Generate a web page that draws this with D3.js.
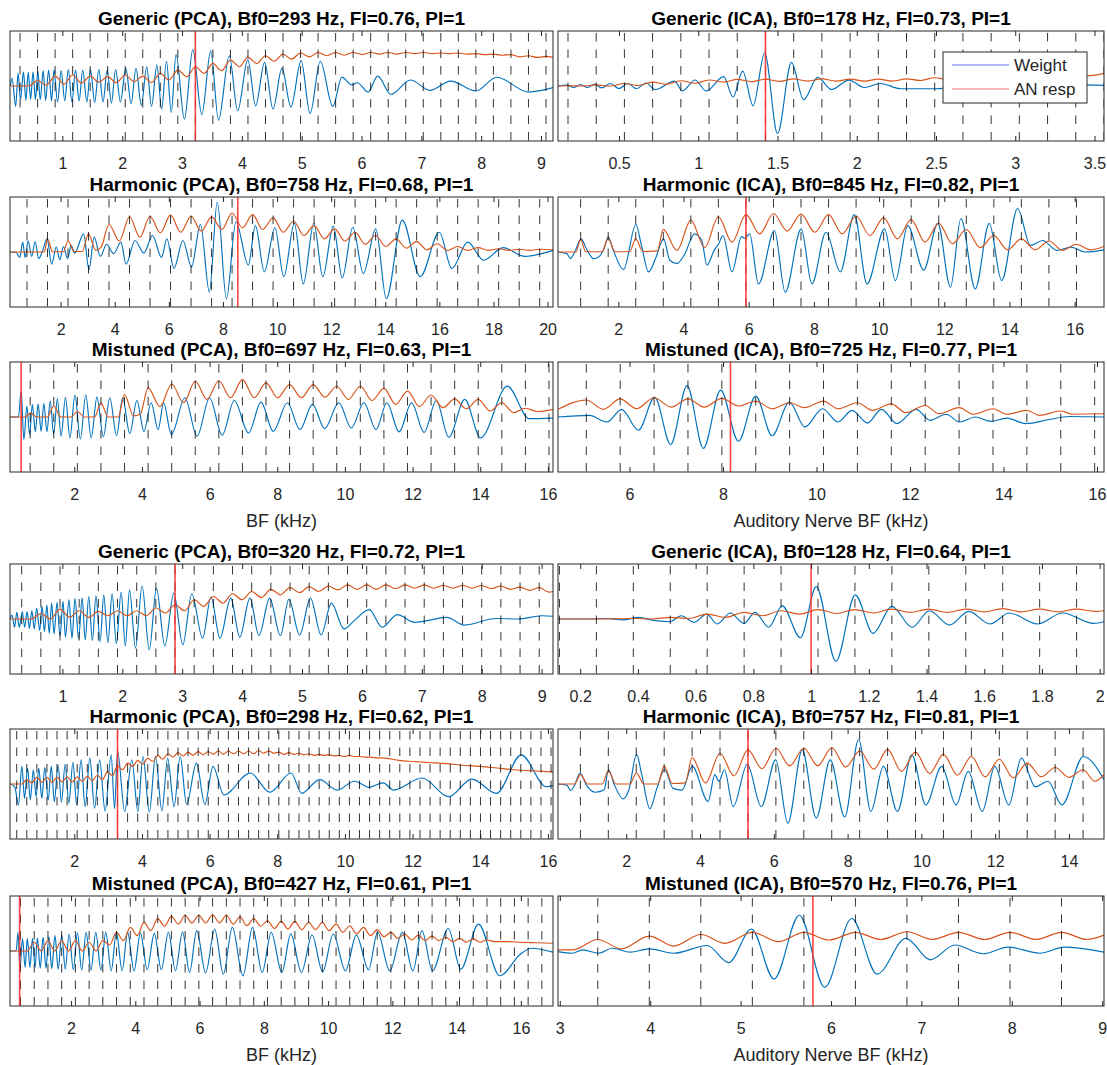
<!DOCTYPE html>
<html>
<head>
<meta charset="utf-8">
<script src="https://cdn.jsdelivr.net/npm/d3@7"></script>
<style>
html, body { margin: 0; padding: 0; background: #fff; }
svg { display: block; }
</style>
</head>
<body>
<svg id="fig" width="1107" height="1065"></svg>
<script>
// ---------- panel descriptors ----------
const panelTitles = [
  "Generic (PCA), Bf0=293 Hz, FI=0.76, PI=1",
  "Generic (ICA), Bf0=178 Hz, FI=0.73, PI=1",
  "Harmonic (PCA), Bf0=758 Hz, FI=0.68, PI=1",
  "Harmonic (ICA), Bf0=845 Hz, FI=0.82, PI=1",
  "Mistuned (PCA), Bf0=697 Hz, FI=0.63, PI=1",
  "Mistuned (ICA), Bf0=725 Hz, FI=0.77, PI=1",
  "Generic (PCA), Bf0=320 Hz, FI=0.72, PI=1",
  "Generic (ICA), Bf0=128 Hz, FI=0.64, PI=1",
  "Harmonic (PCA), Bf0=298 Hz, FI=0.62, PI=1",
  "Harmonic (ICA), Bf0=757 Hz, FI=0.81, PI=1",
  "Mistuned (PCA), Bf0=427 Hz, FI=0.61, PI=1",
  "Mistuned (ICA), Bf0=570 Hz, FI=0.76, PI=1"
];
const bestF0Hz = [293, 178, 758, 845, 697, 725, 320, 128, 298, 757, 427, 570];
const bfRangeKHz = [
  [0.125, 9.2], [0.115, 3.56], [0.13, 20.2], [0.15, 16.9], [0.10, 16.15], [4.47, 16.15],
  [0.125, 9.19], [0.123, 2.015], [0.10, 16.15], [0.15, 14.95], [0.10, 17.0], [2.98, 9.02]
];
const xTickValues = [
  [1, 2, 3, 4, 5, 6, 7, 8, 9],
  [0.5, 1, 1.5, 2, 2.5, 3, 3.5],
  [2, 4, 6, 8, 10, 12, 14, 16, 18, 20],
  [2, 4, 6, 8, 10, 12, 14, 16],
  [2, 4, 6, 8, 10, 12, 14, 16],
  [6, 8, 10, 12, 14, 16],
  [1, 2, 3, 4, 5, 6, 7, 8, 9],
  [0.2, 0.4, 0.6, 0.8, 1, 1.2, 1.4, 1.6, 1.8, 2],
  [2, 4, 6, 8, 10, 12, 14, 16],
  [2, 4, 6, 8, 10, 12, 14],
  [2, 4, 6, 8, 10, 12, 14, 16],
  [3, 4, 5, 6, 7, 8, 9]
];
const markerBFkHz = [3.223, 1.424, 8.55, 5.915, 0.43, 8.16, 2.88, 1.0, 3.278, 5.299, 0.40, 5.80];
const xAxisTitles = ["BF (kHz)", "Auditory Nerve BF (kHz)"];
const legendLabels = ["Weight", "AN resp"];

// ---------- weight (blue) and AN response (orange) per panel: [BF kHz, value] ----------
const weightP1 = [[0.13,0],[0.16,0.14],[0.22,-0.37],[0.26,0.23],[0.30,-0.25],[0.35,0.26],[0.39,-0.26],[0.43,0.25],[0.47,-0.24],[0.51,0.26],[0.55,-0.25],[0.59,0.27],[0.63,-0.25],[0.68,0.28],[0.72,-0.26],[0.77,0.29],[0.82,-0.27],[0.86,0.29],[0.92,-0.29],[0.98,0.28],[1.04,-0.27],[1.10,0.30],[1.16,-0.29],[1.22,0.29],[1.28,-0.27],[1.34,0.29],[1.41,-0.29],[1.47,0.30],[1.54,-0.30],[1.61,0.30],[1.68,-0.29],[1.75,0.29],[1.82,-0.31],[1.89,0.30],[1.97,-0.29],[2.06,0.32],[2.15,-0.32],[2.23,0.32],[2.32,-0.35],[2.41,0.35],[2.49,-0.37],[2.58,0.38],[2.66,-0.42],[2.74,0.45],[2.82,-0.48],[2.90,0.57],[3.04,-0.60],[3.18,0.66],[3.33,-0.52],[3.48,0.64],[3.61,-0.62],[3.79,0.55],[3.93,-0.45],[4.10,0.48],[4.23,-0.36],[4.38,0.43],[4.52,-0.42],[4.67,0.32],[4.82,-0.38],[4.99,0.46],[5.14,-0.50],[5.31,0.45],[5.52,-0.37],[5.67,0.16],[5.84,0.02],[5.93,0.06],[6.11,-0.11],[6.27,0.18],[6.49,-0.15],[6.82,0.11],[7.14,-0.08],[7.49,0.09],[7.91,-0.09],[8.26,0.16],[8.79,-0.11],[9.2,-0.03]];
const anRespP1 = [[0.125,0],[0.293,0],[0.44,0],[0.586,0.10],[0.73,0.015],[0.879,0.18],[1.03,0.035],[1.172,0.20],[1.32,0.05],[1.465,0.18],[1.61,0.07],[1.758,0.17],[1.90,0.06],[2.051,0.20],[2.20,0.08],[2.344,0.18],[2.49,0.06],[2.637,0.23],[2.78,0.11],[2.93,0.29],[3.08,0.17],[3.223,0.35],[3.37,0.23],[3.516,0.41],[3.66,0.28],[3.809,0.47],[3.96,0.35],[4.102,0.52],[4.25,0.41],[4.395,0.55],[4.54,0.45],[4.688,0.58],[4.83,0.49],[4.981,0.60],[5.13,0.53],[5.274,0.61],[5.42,0.55],[5.567,0.61],[5.71,0.56],[5.86,0.61],[6.01,0.57],[6.153,0.61],[6.30,0.58],[6.446,0.61],[6.59,0.58],[6.739,0.61],[6.89,0.59],[7.032,0.61],[7.18,0.59],[7.325,0.60],[7.47,0.59],[7.618,0.60],[7.76,0.58],[7.911,0.59],[8.06,0.57],[8.204,0.58],[8.35,0.56],[8.497,0.57],[8.64,0.53],[8.79,0.55],[8.94,0.52],[9.083,0.54],[9.2,0.52]];

const weightP2 = [[0.115,0],[0.17,0.015],[0.214,-0.028],[0.258,0.028],[0.302,-0.028],[0.346,0.034],[0.39,-0.034],[0.445,0.046],[0.50,-0.046],[0.555,0.046],[0.61,-0.05],[0.67,0.055],[0.73,-0.065],[0.85,0.09],[0.90,-0.09],[0.98,0.11],[1.05,-0.09],[1.16,0.17],[1.22,-0.20],[1.28,0.27],[1.346,-0.36],[1.419,0.60],[1.50,-0.865],[1.588,0.43],[1.665,-0.25],[1.753,0.157],[1.841,-0.065],[1.951,0.108],[2.049,-0.028],[2.148,0.046],[2.28,-0.05],[2.5,-0.05],[2.7,-0.02],[2.9,-0.05],[3.1,-0.01],[3.3,-0.03],[3.45,0.02],[3.56,0.01]];
const anRespP2 = [[0.115,0],[0.178,0.005],[0.27,0],[0.356,0.02],[0.445,0],[0.534,0.045],[0.62,0.01],[0.712,0.07],[0.80,0.03],[0.89,0.095],[0.98,0.05],[1.068,0.11],[1.16,0.07],[1.246,0.12],[1.335,0.08],[1.424,0.125],[1.51,0.085],[1.602,0.13],[1.69,0.09],[1.78,0.13],[1.87,0.09],[1.958,0.125],[2.05,0.09],[2.136,0.125],[2.225,0.09],[2.314,0.13],[2.40,0.10],[2.492,0.15],[2.58,0.12],[2.67,0.16],[2.76,0.13],[2.848,0.17],[2.94,0.14],[3.026,0.18],[3.115,0.15],[3.204,0.19],[3.29,0.17],[3.382,0.21],[3.47,0.19],[3.56,0.23]];

const weightP3 = [[0.13,0],[0.36,-0.01],[0.49,-0.10],[0.60,0.18],[0.69,-0.10],[0.80,0.20],[0.93,-0.08],[1.06,0.19],[1.19,-0.12],[1.32,0],[1.50,0.24],[1.67,-0.22],[1.84,0.09],[1.97,-0.14],[2.10,0.10],[2.26,-0.12],[2.39,0.12],[2.52,-0.02],[2.85,0.33],[3.05,-0.32],[3.24,0.27],[3.47,-0.08],[3.70,0.14],[3.96,-0.03],[4.23,0.18],[4.42,-0.22],[4.75,0.21],[5.08,-0.02],[5.40,0.30],[5.73,-0.10],[5.93,0.24],[6.19,-0.30],[6.52,0.21],[6.84,-0.27],[7.17,0.50],[7.50,-0.73],[7.79,0.91],[8.13,-0.85],[8.48,0.55],[8.94,-0.24],[9.20,0.48],[9.53,-0.36],[9.92,0.44],[10.25,-0.45],[10.64,0.52],[10.97,-0.58],[11.36,0.52],[11.69,-0.45],[12.08,0.47],[12.41,-0.47],[12.80,0.45],[13.19,-0.39],[13.65,0.42],[14.04,-0.85],[14.63,0.58],[15.29,-0.45],[16.0,0.36],[16.46,-0.30],[17.05,0.18],[17.64,-0.15],[18.36,0.08],[19.15,-0.08],[20.2,0.03]];
const anRespP3 = [[0.13,0],[1.40,0],[1.516,0.24],[1.70,0.005],[2.10,0.005],[2.274,0.20],[2.50,0.01],[2.80,0.01],[3.032,0.33],[3.30,0.03],[3.50,0.09],[3.79,0.50],[4.17,0.20],[4.548,0.64],[4.93,0.27],[5.306,0.65],[5.685,0.35],[6.064,0.67],[6.44,0.36],[6.822,0.65],[7.20,0.38],[7.58,0.64],[7.96,0.41],[8.338,0.71],[8.72,0.44],[9.096,0.68],[9.47,0.41],[9.854,0.62],[10.23,0.36],[10.612,0.56],[10.99,0.30],[11.37,0.48],[11.75,0.24],[12.128,0.42],[12.51,0.20],[12.886,0.36],[13.26,0.14],[13.644,0.30],[14.02,0.10],[14.40,0.24],[14.78,0.07],[15.16,0.19],[15.54,0.04],[15.918,0.15],[16.30,0.03],[16.676,0.10],[17.05,0.03],[17.434,0.08],[17.81,0.03],[18.19,0.06],[18.57,0.03],[18.95,0.05],[19.33,0.03],[19.71,0.05],[20.2,0.04]];

const weightP4 = [[0.15,0],[0.42,-0.03],[0.53,-0.12],[0.64,-0.03],[0.86,0.24],[1.02,0.06],[1.24,-0.12],[1.40,-0.09],[1.56,0.06],[1.69,0.27],[1.84,0.04],[2.16,-0.32],[2.54,0.50],[2.71,0.12],[2.93,-0.36],[3.14,-0.12],[3.39,0.24],[3.58,-0.15],[3.80,-0.21],[4.02,-0.06],[4.34,0.33],[4.56,0.21],[4.72,-0.24],[4.94,0.03],[5.08,0.15],[5.21,0.30],[5.49,-0.36],[5.78,0.28],[5.88,0.25],[6.03,0.33],[6.30,-0.58],[6.79,0.39],[7.12,-0.73],[7.61,0.42],[7.94,-0.58],[8.37,0.36],[8.81,-0.36],[9.24,0.68],[9.63,-0.58],[10.17,0.42],[10.50,-0.52],[10.88,0.48],[11.37,-0.33],[11.80,0.52],[12.19,-0.64],[12.51,0.61],[12.95,-0.67],[13.38,0.52],[13.76,-0.52],[14.25,0.79],[14.64,0.12],[15.02,0.21],[15.45,0.03],[15.89,0.09],[16.32,0],[16.9,0.04]];
const anRespP4 = [[0.15,0],[0.70,0],[0.845,0.23],[1.00,0.005],[1.50,0.005],[1.69,0.25],[1.90,0.005],[2.35,0.01],[2.535,0.24],[2.75,0.01],[3.20,0.02],[3.38,0.41],[3.80,0.03],[4.225,0.58],[4.65,0.08],[5.07,0.64],[5.49,0.18],[5.915,0.68],[6.34,0.33],[6.76,0.70],[7.18,0.38],[7.605,0.69],[8.03,0.36],[8.45,0.68],[8.87,0.33],[9.295,0.65],[9.72,0.30],[10.14,0.62],[10.56,0.24],[10.985,0.59],[11.41,0.18],[11.83,0.52],[12.25,0.15],[12.675,0.41],[13.10,0.08],[13.52,0.30],[13.94,0.04],[14.365,0.24],[14.79,0.04],[15.21,0.20],[15.63,0.03],[16.055,0.14],[16.48,0.04],[16.9,0.10]];

const weightP5 = [[0.10,0],[0.35,0],[0.43,0.47],[0.51,-0.41],[0.60,0.20],[0.68,-0.32],[0.76,0.23],[0.85,-0.27],[0.93,0.24],[1.02,-0.26],[1.10,0.25],[1.19,-0.27],[1.29,0.29],[1.39,-0.31],[1.50,0.33],[1.61,-0.35],[1.74,0.36],[1.87,-0.38],[2.02,0.40],[2.18,-0.40],[2.34,0.40],[2.50,-0.38],[2.67,0.36],[2.86,-0.36],[3.05,0.35],[3.25,-0.34],[3.43,0.35],[3.64,-0.30],[3.85,0.30],[4.06,-0.26],[4.27,0.26],[4.48,-0.23],[4.64,0.26],[4.87,-0.32],[5.27,0.35],[5.63,-0.35],[6.0,0.35],[6.37,-0.33],[6.73,0.30],[7.15,-0.29],[7.52,0.27],[7.88,-0.26],[8.30,0.26],[8.67,-0.23],[9.04,0.23],[9.40,-0.21],[9.82,0.26],[10.19,-0.20],[10.56,0.26],[10.92,-0.23],[11.24,0.26],[11.60,-0.27],[11.97,0.26],[12.34,-0.28],[12.70,0.30],[13.07,-0.37],[13.54,0.32],[14.01,-0.38],[14.80,0.56],[15.45,-0.03],[16.15,-0.02]];
const anRespP5 = [[0.10,0],[0.55,0],[0.697,0.07],[0.90,0],[1.2,0],[1.394,0.20],[1.6,0],[1.9,0],[2.091,0.10],[2.3,0],[2.6,0],[2.788,0.26],[3.0,0],[3.3,0],[3.485,0.41],[3.75,0.02],[3.95,0.05],[4.182,0.53],[4.53,0.19],[4.879,0.60],[5.23,0.26],[5.576,0.65],[5.92,0.32],[6.273,0.66],[6.62,0.35],[6.97,0.68],[7.32,0.35],[7.667,0.62],[8.01,0.35],[8.364,0.59],[8.71,0.35],[9.061,0.59],[9.41,0.36],[9.758,0.56],[10.1,0.32],[10.455,0.56],[10.8,0.30],[11.152,0.52],[11.5,0.23],[11.849,0.47],[12.2,0.19],[12.546,0.40],[12.9,0.17],[13.243,0.33],[13.59,0.15],[13.94,0.32],[14.29,0.11],[14.637,0.26],[14.98,0.08],[15.334,0.16],[15.68,0.10],[16.15,0.14]];

const weightP6 = [[4.47,0],[5.14,0.03],[5.52,-0.09],[5.83,0.14],[6.19,-0.24],[6.54,0.36],[6.88,-0.50],[7.23,0.57],[7.58,-0.57],[7.95,0.49],[8.33,-0.44],[8.70,0.38],[9.05,-0.34],[9.42,0.27],[9.75,-0.18],[10.13,0.15],[10.46,-0.09],[10.76,0.12],[11.09,-0.11],[11.39,0.14],[11.72,-0.12],[12.13,0.14],[12.43,-0.06],[12.77,0.05],[13.06,-0.09],[13.40,0],[13.73,-0.08],[14.07,-0.02],[14.48,-0.12],[14.96,-0.05],[15.41,0.01],[16.15,0]];
const anRespP6 = [[4.47,0.14],[5.075,0.31],[5.44,0.14],[5.80,0.33],[6.15,0.15],[6.525,0.35],[6.89,0.18],[7.25,0.33],[7.60,0.18],[7.975,0.34],[8.34,0.20],[8.70,0.29],[9.05,0.15],[9.425,0.26],[9.75,0.17],[10.15,0.29],[10.46,0.15],[10.875,0.26],[11.20,0.12],[11.6,0.24],[11.91,0.08],[12.325,0.21],[12.62,0.06],[13.05,0.17],[13.36,0.05],[13.775,0.15],[14.07,0.05],[14.5,0.12],[14.77,0.03],[15.225,0.11],[15.48,0.05],[15.95,0.06],[16.15,0.06]];

const weightP7 = [[0.125,0],[0.16,0.07],[0.20,-0.15],[0.24,0.12],[0.28,-0.15],[0.33,0.13],[0.37,-0.15],[0.41,0.13],[0.45,-0.17],[0.49,0.15],[0.53,-0.18],[0.57,0.20],[0.62,-0.21],[0.66,0.23],[0.70,-0.23],[0.74,0.26],[0.78,-0.26],[0.82,0.29],[0.86,-0.27],[0.91,0.30],[0.96,-0.31],[1.01,0.32],[1.05,-0.33],[1.11,0.35],[1.16,-0.35],[1.21,0.37],[1.27,-0.36],[1.33,0.38],[1.38,-0.38],[1.44,0.41],[1.50,-0.39],[1.56,0.42],[1.63,-0.41],[1.69,0.44],[1.76,-0.43],[1.83,0.46],[1.90,-0.45],[1.98,0.49],[2.05,-0.49],[2.12,0.53],[2.22,-0.53],[2.33,0.60],[2.45,-0.56],[2.57,0.56],[2.71,-0.49],[2.86,0.47],[3.01,-0.47],[3.16,0.46],[3.34,-0.35],[3.48,0.40],[3.63,-0.35],[3.81,0.38],[3.96,-0.33],[4.13,0.38],[4.28,-0.30],[4.46,0.38],[4.64,-0.30],[4.78,0.36],[4.96,-0.29],[5.14,0.38],[5.32,-0.29],[5.49,0.29],[5.70,-0.18],[5.88,-0.02],[6.12,0.17],[6.34,-0.15],[6.59,0.08],[6.88,-0.06],[7.42,0.03],[7.71,-0.11],[8.24,0.01],[8.60,0],[9.01,0.06],[9.19,0.05]];
const anRespP7 = [[0.125,0],[0.30,0],[0.48,0],[0.64,0.10],[0.80,0],[0.96,0.18],[1.12,0.03],[1.28,0.15],[1.44,0.03],[1.60,0.14],[1.76,0.06],[1.92,0.15],[2.08,0.06],[2.24,0.15],[2.40,0.06],[2.56,0.20],[2.72,0.11],[2.88,0.26],[3.04,0.15],[3.20,0.35],[3.36,0.23],[3.52,0.41],[3.68,0.29],[3.84,0.46],[4.00,0.35],[4.16,0.50],[4.32,0.39],[4.48,0.54],[4.64,0.44],[4.80,0.57],[4.96,0.48],[5.12,0.59],[5.28,0.50],[5.44,0.60],[5.60,0.53],[5.76,0.62],[5.92,0.54],[6.08,0.62],[6.24,0.54],[6.40,0.62],[6.56,0.55],[6.72,0.62],[6.88,0.56],[7.04,0.62],[7.20,0.56],[7.36,0.61],[7.52,0.56],[7.68,0.61],[7.84,0.56],[8.00,0.61],[8.16,0.55],[8.32,0.60],[8.48,0.54],[8.64,0.58],[8.80,0.52],[8.96,0.57],[9.12,0.49],[9.19,0.50]];

const weightP8 = [[0.123,0],[0.227,0],[0.288,0.01],[0.35,-0.015],[0.40,0.03],[0.46,-0.03],[0.51,-0.05],[0.55,0.06],[0.595,-0.06],[0.638,0.09],[0.675,-0.09],[0.72,0.11],[0.767,-0.08],[0.806,0.12],[0.853,-0.15],[0.90,0.24],[0.963,-0.34],[1.018,0.59],[1.086,-0.77],[1.153,0.44],[1.215,-0.26],[1.28,0.23],[1.35,-0.15],[1.41,0.15],[1.48,-0.11],[1.546,0.14],[1.62,-0.09],[1.687,0.11],[1.785,-0.09],[1.871,0.11],[1.98,-0.08],[2.015,-0.05]];
const anRespP8 = [[0.123,0],[0.256,0],[0.384,0.01],[0.45,0],[0.512,0.03],[0.576,0.01],[0.64,0.09],[0.704,0.03],[0.768,0.12],[0.832,0.06],[0.896,0.15],[0.96,0.09],[1.024,0.17],[1.088,0.10],[1.152,0.17],[1.216,0.11],[1.28,0.18],[1.344,0.12],[1.408,0.18],[1.472,0.12],[1.536,0.18],[1.60,0.13],[1.664,0.19],[1.728,0.13],[1.792,0.18],[1.856,0.13],[1.92,0.18],[1.984,0.14],[2.015,0.15]];

const weightP9 = [[0.10,0],[0.24,-0.05],[0.35,-0.38],[0.45,0.32],[0.53,-0.26],[0.62,0.29],[0.70,-0.29],[0.79,0.26],[0.87,-0.23],[0.95,0.29],[1.04,-0.26],[1.13,0.30],[1.23,-0.29],[1.32,0.32],[1.41,-0.32],[1.52,0.35],[1.62,-0.33],[1.73,0.36],[1.84,-0.35],[1.96,0.40],[2.07,-0.38],[2.20,0.44],[2.32,-0.41],[2.46,0.47],[2.60,-0.44],[2.75,0.44],[2.91,-0.49],[3.09,0.53],[3.19,-0.45],[3.28,0.59],[3.49,-0.50],[3.70,0.44],[3.88,-0.50],[4.03,0.50],[4.22,-0.51],[4.40,0.50],[4.59,-0.49],[4.76,0.47],[4.95,-0.41],[5.13,0.50],[5.32,-0.37],[5.61,0.38],[5.86,-0.37],[6.10,0.32],[6.42,-0.20],[7.20,0.20],[7.78,-0.15],[8.41,0.20],[8.72,-0.17],[9.25,0.08],[9.77,-0.11],[10.29,0.05],[10.71,-0.06],[11.13,0.02],[11.44,-0.11],[12.28,0.11],[13.07,-0.23],[13.75,0.09],[14.48,-0.17],[15.21,0.53],[15.95,-0.05],[16.15,-0.03]];
const anRespP9 = [[0.10,0],[0.30,0],[0.45,0],[0.596,0.08],[0.745,0.02],[0.894,0.12],[1.043,0.03],[1.192,0.12],[1.341,0.03],[1.49,0.12],[1.639,0.04],[1.788,0.13],[1.937,0.04],[2.086,0.13],[2.235,0.05],[2.384,0.14],[2.533,0.06],[2.682,0.16],[2.831,0.08],[2.98,0.22],[3.129,0.15],[3.278,0.33],[3.427,0.26],[3.576,0.38],[3.725,0.32],[3.874,0.43],[4.023,0.36],[4.172,0.47],[4.321,0.41],[4.47,0.52],[4.619,0.45],[4.768,0.55],[4.917,0.49],[5.066,0.57],[5.215,0.51],[5.364,0.58],[5.513,0.52],[5.662,0.59],[5.811,0.53],[5.96,0.59],[6.109,0.54],[6.258,0.60],[6.407,0.54],[6.556,0.60],[6.705,0.55],[6.854,0.60],[7.003,0.55],[7.152,0.60],[7.301,0.55],[7.45,0.61],[7.599,0.56],[7.748,0.60],[7.897,0.56],[8.046,0.58],[8.195,0.54],[8.344,0.57],[8.493,0.54],[8.642,0.56],[8.791,0.53],[8.94,0.55],[9.089,0.52],[9.238,0.54],[9.387,0.52],[9.536,0.53],[9.685,0.51],[9.834,0.52],[9.983,0.50],[10.132,0.52],[10.281,0.50],[10.43,0.50],[10.579,0.49],[10.728,0.49],[10.877,0.48],[11.2,0.47],[11.6,0.43],[12.0,0.41],[12.5,0.39],[13.0,0.37],[13.5,0.34],[14.0,0.32],[14.5,0.29],[15.0,0.26],[15.5,0.24],[16.15,0.22]];

const weightP10 = [[0.15,0],[0.39,-0.02],[0.49,-0.12],[0.58,-0.05],[0.75,0.20],[0.92,-0.02],[1.16,-0.15],[1.40,-0.11],[1.52,0.26],[1.68,-0.02],[1.92,-0.27],[2.07,-0.11],[2.28,0.54],[2.42,0.17],[2.64,-0.45],[2.83,-0.08],[3.04,0.26],[3.27,-0.08],[3.51,-0.11],[3.79,0.32],[4.22,-0.32],[4.40,0.17],[4.51,0.05],[4.66,0.26],[4.90,-0.41],[5.28,0.36],[5.66,-0.41],[6.05,0.44],[6.38,-0.71],[6.77,0.62],[7.15,-0.62],[7.53,0.44],[7.92,-0.60],[8.30,0.81],[8.63,-0.50],[8.97,0.32],[9.35,-0.50],[9.74,0.53],[10.12,-0.38],[10.55,0.32],[10.94,-0.38],[11.27,0.23],[11.65,-0.50],[11.99,0.32],[12.37,-0.38],[12.71,0.47],[13.09,-0.05],[13.43,0.05],[13.81,-0.38],[14.39,0.50],[14.95,0.08]];
const anRespP10 = [[0.15,0],[0.60,0],[0.757,0.17],[0.95,0],[1.35,0],[1.514,0.24],[1.72,0],[2.10,0],[2.271,0.20],[2.48,0],[2.85,0],[3.028,0.32],[3.25,0.01],[3.60,0.02],[3.785,0.48],[4.15,0.02],[4.542,0.56],[4.92,0.15],[5.299,0.62],[5.68,0.28],[6.056,0.65],[6.43,0.33],[6.813,0.65],[7.19,0.33],[7.57,0.66],[7.95,0.31],[8.327,0.60],[8.71,0.27],[9.084,0.63],[9.46,0.23],[9.841,0.58],[10.22,0.19],[10.598,0.54],[10.98,0.16],[11.355,0.50],[11.73,0.13],[12.112,0.45],[12.49,0.11],[12.869,0.38],[13.25,0.13],[13.626,0.30],[14.0,0.12],[14.383,0.26],[14.70,0.05],[14.95,0.17]];

const weightP11 = [[0.10,0],[0.29,0],[0.35,0.34],[0.41,-0.33],[0.49,0.23],[0.57,-0.30],[0.64,0.23],[0.72,-0.30],[0.80,0.23],[0.88,-0.30],[0.95,0.24],[1.04,-0.31],[1.13,0.25],[1.22,-0.31],[1.31,0.26],[1.40,-0.32],[1.50,0.28],[1.60,-0.33],[1.71,0.29],[1.82,-0.33],[1.94,0.31],[2.07,-0.34],[2.20,0.33],[2.33,-0.35],[2.47,0.34],[2.62,-0.35],[2.77,0.34],[2.93,-0.35],[3.08,0.34],[3.25,-0.36],[3.41,0.34],[3.59,-0.36],[3.76,0.34],[3.96,-0.36],[4.16,0.33],[4.37,-0.34],[4.59,0.32],[4.81,-0.34],[5.03,0.34],[5.25,-0.36],[5.47,0.35],[5.69,-0.39],[5.91,0.37],[6.19,-0.40],[6.47,0.40],[6.74,-0.42],[7.02,0.43],[7.35,-0.45],[7.65,0.43],[7.95,-0.39],[8.23,0.34],[8.56,-0.39],[8.84,0.31],[9.17,-0.39],[9.50,0.29],[9.83,-0.38],[10.16,0.31],[10.54,-0.36],[10.88,0.29],[11.26,-0.34],[11.54,0.34],[11.92,-0.36],[12.31,0.34],[12.64,-0.36],[12.92,0.37],[13.25,-0.36],[13.74,0.41],[14.13,-0.33],[14.68,0.49],[15.34,-0.45],[16.0,-0.05],[16.33,0.05],[17.0,-0.02]];
const anRespP11 = [[0.10,0],[0.427,0],[0.64,0],[0.854,0.16],[1.07,0],[1.281,0.19],[1.49,0],[1.708,0.19],[1.92,0],[2.135,0.19],[2.35,0],[2.562,0.16],[2.78,0],[2.989,0.19],[3.20,0.11],[3.416,0.34],[3.63,0.19],[3.843,0.43],[4.06,0.28],[4.27,0.52],[4.48,0.37],[4.697,0.59],[4.91,0.45],[5.124,0.63],[5.34,0.49],[5.551,0.65],[5.76,0.51],[5.978,0.65],[6.19,0.51],[6.405,0.66],[6.62,0.51],[6.832,0.65],[7.05,0.49],[7.259,0.62],[7.47,0.46],[7.686,0.59],[7.90,0.45],[8.113,0.55],[8.33,0.41],[8.54,0.54],[8.75,0.40],[8.967,0.54],[9.18,0.39],[9.394,0.52],[9.61,0.39],[9.821,0.52],[10.03,0.37],[10.248,0.49],[10.46,0.34],[10.675,0.46],[10.89,0.31],[11.102,0.43],[11.32,0.28],[11.529,0.39],[11.74,0.26],[11.956,0.34],[12.17,0.23],[12.383,0.31],[12.6,0.20],[12.81,0.29],[13.02,0.19],[13.237,0.27],[13.45,0.19],[13.664,0.25],[13.88,0.17],[14.091,0.23],[14.3,0.16],[14.518,0.22],[14.73,0.16],[14.945,0.20],[15.2,0.17],[15.6,0.17],[16.0,0.16],[16.5,0.15],[17.0,0.14]];

const weightP12 = [[2.98,-0.01],[3.14,-0.04],[3.25,0.02],[3.43,-0.04],[3.58,0.05],[3.78,-0.02],[3.99,0.04],[4.26,-0.04],[4.63,0.10],[4.87,-0.21],[5.12,0.40],[5.37,-0.51],[5.65,0.65],[5.93,-0.66],[6.23,0.59],[6.51,-0.42],[6.83,0.23],[7.10,-0.16],[7.37,0.11],[7.68,-0.05],[7.96,0.07],[8.31,-0.04],[8.58,0.07],[9.02,-0.02]];
const anRespP12 = [[2.98,0.02],[3.14,0.02],[3.42,0.21],[3.68,0.04],[3.99,0.27],[4.26,0.09],[4.56,0.30],[4.83,0.14],[5.13,0.34],[5.42,0.17],[5.70,0.34],[5.98,0.20],[6.27,0.34],[6.55,0.21],[6.84,0.35],[7.12,0.21],[7.41,0.34],[7.70,0.21],[7.98,0.34],[8.27,0.21],[8.55,0.34],[8.83,0.21],[9.02,0.29]];

const weightSeries = [weightP1, weightP2, weightP3, weightP4, weightP5, weightP6, weightP7, weightP8, weightP9, weightP10, weightP11, weightP12];
const anRespSeries = [anRespP1, anRespP2, anRespP3, anRespP4, anRespP5, anRespP6, anRespP7, anRespP8, anRespP9, anRespP10, anRespP11, anRespP12];

// ---------- layout ----------
const FONT = '"Liberation Sans", Arial, Helvetica, sans-serif';
const colLeft = [10, 558];
const colWidth = [543, 546];
const rowTop = [31, 197, 362, 564, 729, 896];
const boxH = 110;
const AXIS_COLOR = "#262626";
const BLUE = "#0072BD", ORANGE = "#D95319";

const svg = d3.select("#fig");
const defs = svg.append("defs");

panelTitles.forEach((title, i) => {
  const row = Math.floor(i / 2), col = i % 2;
  const x0 = colLeft[col], w = colWidth[col], y0 = rowTop[row];
  const x = d3.scaleLinear().domain(bfRangeKHz[i]).range([x0, x0 + w]);
  const y = d3.scaleLinear().domain([-1, 1]).range([y0 + boxH, y0]);
  const g = svg.append("g");

  defs.append("clipPath").attr("id", "clip" + i)
    .append("rect").attr("x", x0).attr("y", y0).attr("width", w).attr("height", boxH);
  const plot = g.append("g").attr("clip-path", `url(#clip${i})`);

  const line = d3.line().x(d => x(d[0])).y(d => y(d[1])).curve(d3.curveMonotoneX);
  plot.append("path").attr("d", line(weightSeries[i]))
    .attr("fill", "none").attr("stroke", BLUE).attr("stroke-width", 1.15).attr("stroke-linejoin", "round");
  plot.append("path").attr("d", line(anRespSeries[i]))
    .attr("fill", "none").attr("stroke", ORANGE).attr("stroke-width", 1.15).attr("stroke-linejoin", "round");

  // harmonics of the best F0
  const f0k = bestF0Hz[i] / 1000;
  const harmonics = d3.range(1, 200).map(k => k * f0k)
    .filter(v => v > bfRangeKHz[i][0] && v < bfRangeKHz[i][1]);
  plot.selectAll("line.harm").data(harmonics).join("line")
    .attr("class", "harm")
    .attr("x1", d => x(d)).attr("x2", d => x(d))
    .attr("y1", y0).attr("y2", y0 + boxH)
    .attr("stroke", "#000").attr("stroke-opacity", 0.8).attr("stroke-width", 1)
    .attr("stroke-dasharray", "8.5,8").attr("stroke-dashoffset", -2);

  // marker at the characteristic BF
  plot.append("line")
    .attr("x1", x(markerBFkHz[i])).attr("x2", x(markerBFkHz[i]))
    .attr("y1", y0).attr("y2", y0 + boxH)
    .attr("stroke", "#ff2f2f").attr("stroke-opacity", 0.9).attr("stroke-width", 1.6);

  // axes: bottom with labels, top with ticks only
  const axB = d3.axisBottom(x).tickValues(xTickValues[i]).tickFormat(d => String(d))
    .tickSizeInner(-5).tickSizeOuter(0).tickPadding(17);
  const gB = g.append("g").attr("transform", `translate(0,${y0 + boxH})`).call(axB);
  gB.select(".domain").remove();
  gB.selectAll("line").attr("stroke", AXIS_COLOR);
  gB.selectAll("text").attr("font-family", FONT).attr("font-size", 16).attr("fill", AXIS_COLOR);

  const axT = d3.axisTop(x).tickValues(xTickValues[i]).tickFormat("")
    .tickSizeInner(-5).tickSizeOuter(0);
  const gT = g.append("g").attr("transform", `translate(0,${y0})`).call(axT);
  gT.select(".domain").remove();
  gT.selectAll("line").attr("stroke", AXIS_COLOR);

  g.append("rect").attr("x", x0).attr("y", y0).attr("width", w).attr("height", boxH)
    .attr("fill", "none").attr("stroke", AXIS_COLOR).attr("stroke-width", 1);

  g.append("text").attr("x", x0 + w / 2).attr("y", y0 - 6)
    .attr("text-anchor", "middle").attr("font-family", FONT)
    .attr("font-size", 19).attr("font-weight", "bold").attr("fill", "#000")
    .text(title);

  // x-axis titles under the bottom row of each group
  if (row === 2 || row === 5) {
    g.append("text").attr("x", x0 + w / 2).attr("y", y0 + boxH + 55)
      .attr("text-anchor", "middle").attr("font-family", FONT)
      .attr("font-size", 18).attr("fill", AXIS_COLOR)
      .text(xAxisTitles[col]);
  }

  // legend inside the top-right panel
  if (i === 1) {
    const lx = x0 + w - 161, ly = y0 + 21, lw = 144, lh = 51;
    const lg = g.append("g");
    lg.append("rect").attr("x", lx).attr("y", ly).attr("width", lw).attr("height", lh)
      .attr("fill", "#fff").attr("stroke", AXIS_COLOR).attr("stroke-width", 1);
    const legColors = ["#6e6eff", "#ff6e6e"];
    legendLabels.forEach((lab, j) => {
      const yy = ly + 13 + j * 24;
      lg.append("line").attr("x1", lx + 9).attr("x2", lx + 66).attr("y1", yy).attr("y2", yy)
        .attr("stroke", legColors[j]).attr("stroke-width", 1.2);
      lg.append("text").attr("x", lx + 71).attr("y", yy + 6)
        .attr("font-family", FONT).attr("font-size", 17).attr("fill", AXIS_COLOR).text(lab);
    });
  }
});
</script>
</body>
</html>
